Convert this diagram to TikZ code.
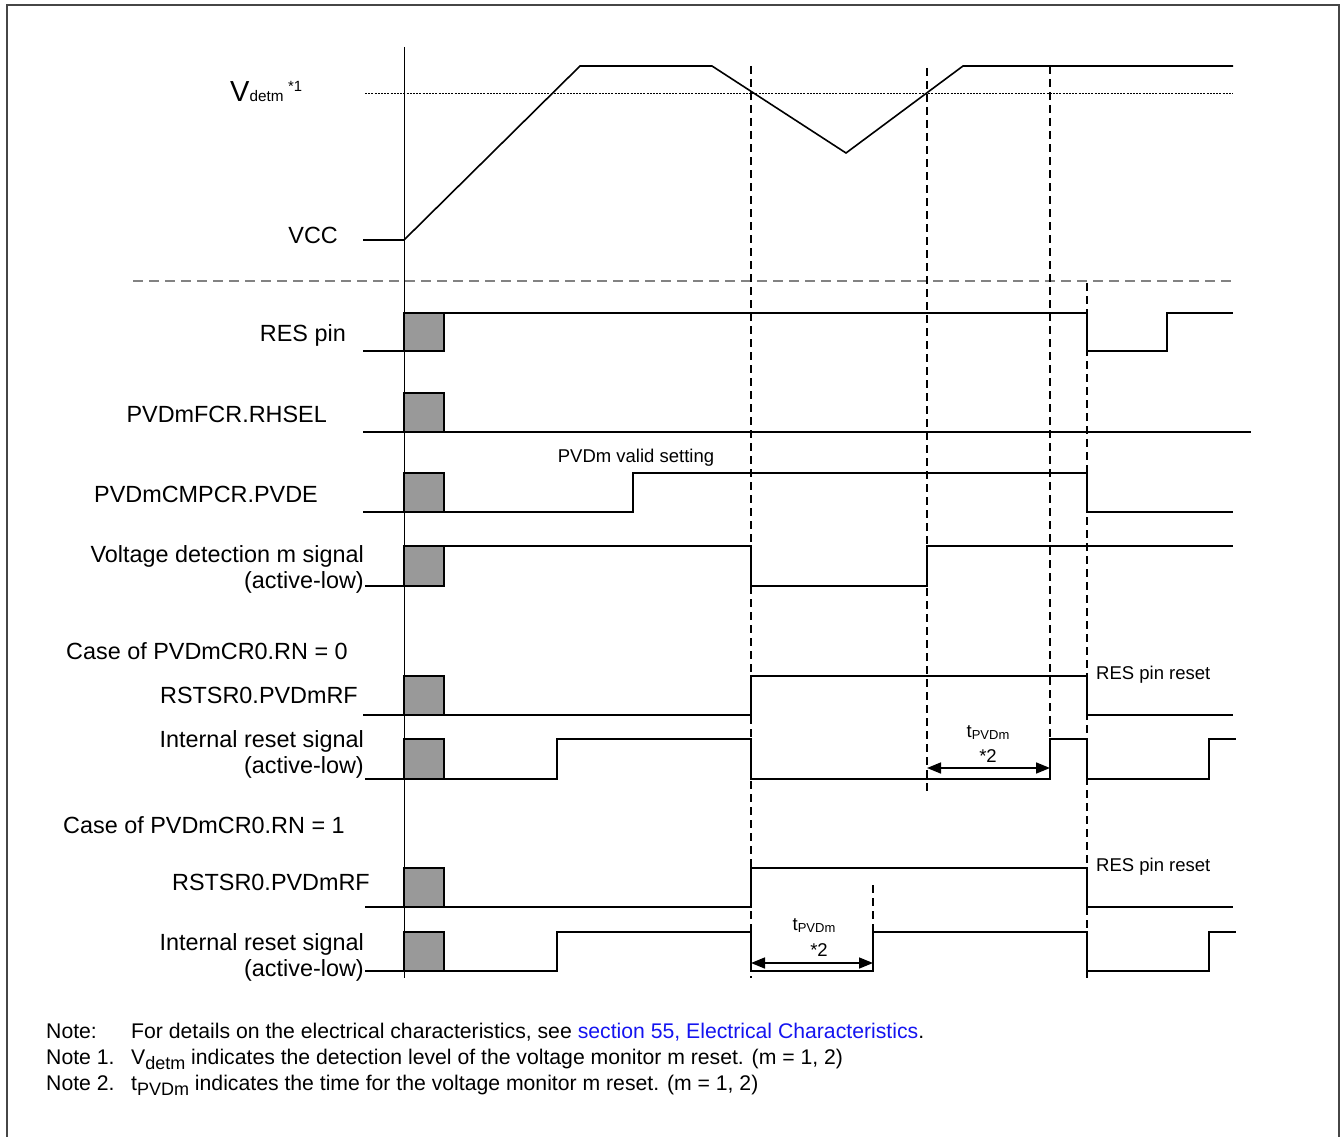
\documentclass[tikz,border=0pt]{standalone}
\usepackage{fontspec}
\setmainfont{Liberation Sans}
\usetikzlibrary{arrows.meta}
\definecolor{boxgray}{RGB}{153,153,153}
\definecolor{sepgray}{RGB}{130,130,130}
\definecolor{framegray}{RGB}{70,70,70}
\definecolor{linkblue}{RGB}{20,20,240}
\begin{document}
\begin{tikzpicture}[x=1pt,y=-1pt,
  sig/.style={line width=1.6pt, line join=miter},
  vdash/.style={line width=1.3pt, dash pattern=on 8pt off 5pt},
  gbox/.style={fill=boxgray, draw=black, line width=1.5pt},
  lbl/.style={font=\fontsize{23.4}{27}\selectfont, inner sep=0pt, anchor=base east},
  lblw/.style={font=\fontsize{23.4}{27}\selectfont, inner sep=0pt, anchor=base west},
  slbl/.style={font=\fontsize{18.5}{22}\selectfont, inner sep=0pt},
  notetxt/.style={font=\fontsize{21.2}{25}\selectfont, inner sep=0pt, anchor=base west},
  dimarrow/.style={line width=1.6pt, {Triangle[length=14pt,width=11pt]}-{Triangle[length=14pt,width=11pt]}}]
\useasboundingbox (0,0) rectangle (1343,1137);
% frame
\draw[line width=2pt, framegray] (7,1145) -- (7,5) -- (1339,5) -- (1339,1145);

% reference lines
\draw[line width=0.9pt, dash pattern=on 2pt off 1.2pt] (365,93) -- (1233,93);
\draw[line width=1.5pt, sepgray, dash pattern=on 10pt off 6pt] (133,281) -- (1233,281);

% VCC
\draw[sig] (363,240) -- (404,240) -- (580,66) -- (712,66) -- (846,153) -- (963,66) -- (1233,66);

% RES pin
\draw[sig] (363,351) -- (404,351);
\draw[sig] (444,313) -- (1087,313) -- (1087,351) -- (1167,351) -- (1167,313) -- (1233,313);
% RHSEL
\draw[sig] (363,432) -- (1251,432);
% PVDE
\draw[sig] (363,512) -- (633,512) -- (633,473) -- (1087,473) -- (1087,512) -- (1233,512);
% Voltage detection
\draw[sig] (365,586) -- (404,586);
\draw[sig] (444,546) -- (751,546) -- (751,586) -- (927,586) -- (927,546) -- (1233,546);
% RSTSR0 row 1
\draw[sig] (363,715) -- (751,715) -- (751,676) -- (1087,676) -- (1087,715) -- (1233,715);
% Internal reset row 1
\draw[sig] (365,779) -- (557,779) -- (557,739) -- (751,739) -- (751,779) -- (1050,779) -- (1050,739) -- (1087,739) -- (1087,779) -- (1209,779) -- (1209,739) -- (1236,739);
% RSTSR0 row 2
\draw[sig] (365,907) -- (751,907) -- (751,868) -- (1087,868) -- (1087,907) -- (1233,907);
% Internal reset row 2
\draw[sig] (365,971) -- (557,971) -- (557,932) -- (751,932) -- (751,971) -- (873,971) -- (873,932) -- (1087,932) -- (1087,971) -- (1209,971) -- (1209,932) -- (1236,932);

% gray boxes
\foreach \ya/\yb in {313/351, 393/432, 473/512, 546/586, 676/715, 739/779, 868/907, 932/971}
  \draw[gbox] (404,\ya) rectangle (444,\yb);

% main vertical line
\draw[line width=1pt] (404,47) -- (404,978);

% dashed verticals
\draw[vdash] (751,66) -- (751,978);
\draw[vdash] (927,68) -- (927,795);
\draw[vdash] (1050,66) -- (1050,779);
\draw[vdash] (1087,283) -- (1087,978);
\draw[vdash] (873,885) -- (873,971);

% dimension arrows
\coordinate (t1a) at (927,768);
\coordinate (t1b) at (1050,768);
\coordinate (t2a) at (751,963);
\coordinate (t2b) at (873,963);
\draw[dimarrow] (t1a) -- (t1b);
\draw[dimarrow] (t2a) -- (t2b);

% labels
\node[inner sep=0pt, anchor=base west, font=\fontsize{29}{32}\selectfont] (vdet) at (230,102) {V{\fontsize{15.3}{16}\selectfont detm}};
\node[inner sep=0pt, anchor=base west, font=\fontsize{14.8}{16}\selectfont] (vdetn) at (288,92) {*1};
\node[lbl] (vcc) at (338,243) {VCC};
\node[lbl] (res) at (346,341) {RES pin};
\node[lbl] (rhsel) at (327,422) {PVDmFCR.RHSEL};
\node[lbl] (pvde) at (318,502) {PVDmCMPCR.PVDE};
\node[lbl] (vd1) at (364,562) {Voltage detection m signal};
\node[lbl] (vd2) at (364,588) {(active-low)};
\node[lblw] (case0) at (66,659) {Case of PVDmCR0.RN = 0};
\node[lbl] (rf1) at (358,703) {RSTSR0.PVDmRF};
\node[lbl] (ir1a) at (364,747) {Internal reset signal};
\node[lbl] (ir1b) at (364,773) {(active-low)};
\node[lblw] (case1) at (63,833) {Case of PVDmCR0.RN = 1};
\node[lbl] (rf2) at (370,890) {RSTSR0.PVDmRF};
\node[lbl] (ir2a) at (364,950) {Internal reset signal};
\node[lbl] (ir2b) at (364,976) {(active-low)};

\node[slbl, anchor=base] (valid) at (636,462) {PVDm valid setting};
\node[slbl, anchor=base west] (rr1) at (1096,679) {RES pin reset};
\node[slbl, anchor=base west] (rr2) at (1096,871) {RES pin reset};
\node[slbl, anchor=base] (tp1) at (988,737) {t\raisebox{-2pt}{\fontsize{13}{13}\selectfont PVDm}};
\node[slbl, anchor=base] (st1) at (988,762) {*2};
\node[slbl, anchor=base] (tp2) at (814,930) {t\raisebox{-2pt}{\fontsize{13}{13}\selectfont PVDm}};
\node[slbl, anchor=base] (st2) at (819,956) {*2};

% notes
\node[notetxt] (n0) at (46,1038) {Note:};
\node[notetxt] (n0t) at (131,1038) {For details on the electrical characteristics, see \textcolor{linkblue}{section 55, Electrical Characteristics}.};
\node[notetxt] (n1) at (46,1064) {Note 1.};
\node[notetxt] (n1t) at (131,1064) {V\raisebox{-5pt}{\fontsize{18}{18}\selectfont detm} indicates the detection level of the voltage monitor m reset. (m = 1, 2)};
\node[notetxt] (n2) at (46,1090) {Note 2.};
\node[notetxt] (n2t) at (131,1090) {t\raisebox{-5pt}{\fontsize{18}{18}\selectfont PVDm} indicates the time for the voltage monitor m reset. (m = 1, 2)};
\end{tikzpicture}
\end{document}
